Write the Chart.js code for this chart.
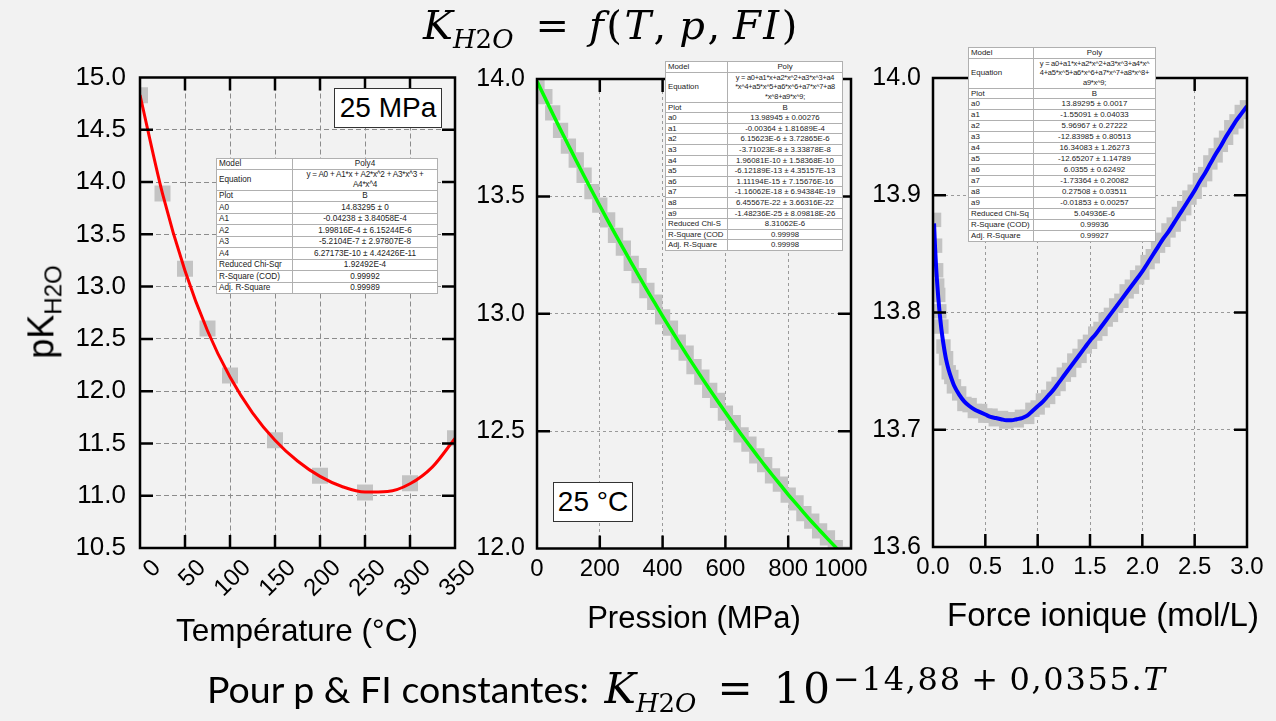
<!DOCTYPE html>
<html>
<head>
<meta charset="utf-8">
<script src="https://cdn.jsdelivr.net/npm/chart.js@4.4.0/dist/chart.umd.min.js"></script>
<style>
  html, body { margin: 0; padding: 0; }
  body { width: 1276px; height: 721px; background: #f2f2f2; position: relative; overflow: hidden;
         font-family: "Liberation Sans", Arial, sans-serif; color: #000; }
  canvas { position: absolute; }
  .abs { position: absolute; white-space: nowrap; }
  .math { font-family: "DejaVu Serif", serif; }
  .math i { font-style: italic; }
  .axt { transform: translate(-50%, -50%); }
  .tag { background: #fff; border: 1.5px solid #333; font-size: 28px; text-align: center; box-sizing: border-box; }
  table.fit { position: absolute; border-collapse: collapse; background: #fff; border: 1.5px solid #555;
              table-layout: fixed; color: #222; }
  table.fit td { border: 1px solid #b0b0b0; padding: 0 2px; white-space: pre; overflow: hidden;
                 line-height: 9.6px; vertical-align: middle; }
  table.fit td:nth-child(2) { text-align: center; }
  table.fit td.eq { letter-spacing: -0.25px; padding: 0; }
</style>
</head>
<body>
<canvas id="cTemp" width="450" height="620" style="left:40px;top:50px"></canvas>
<canvas id="cPres" width="450" height="620" style="left:440px;top:50px"></canvas>
<canvas id="cIon" width="440" height="620" style="left:836px;top:50px"></canvas>

<div class="abs math" id="title" style="left:423px;top:5px;font-size:40px;line-height:40px;">
  <i>K</i><sub style="font-size:26px"><i>H</i>2<i>O</i></sub><span style="margin:0 20px 0 22px">=</span><span style="letter-spacing:2.5px"><i>f</i>(<i>T</i>,&#8201;<i>p</i>,&#8201;<i>FI</i>)</span>
</div>

<div class="abs" id="ytitle" style="left:44px;top:312px;transform:translate(-50%,-50%) rotate(-90deg);font-size:36px;">pK<sub style="font-size:24px">H2O</sub></div>

<div class="abs axt" style="left:297px;top:630px;font-size:31.5px;">Température (°C)</div>
<div class="abs axt" style="left:694px;top:618px;font-size:31px;">Pression (MPa)</div>
<div class="abs axt" style="left:1103px;top:615px;font-size:33px;">Force ionique (mol/L)</div>

<div class="abs tag" style="left:334px;top:88px;width:108px;height:40px;line-height:37px;">25 MPa</div>
<div class="abs tag" style="left:553px;top:482px;width:80px;height:40px;line-height:37px;">25 °C</div>

<div class="abs" id="formula" style="left:207px;top:660px;">
  <span style="font-family:Lato, 'Open Sans', sans-serif;font-size:37.5px;">Pour p &amp; FI constantes: </span><span class="math" style="font-size:42px;margin-left:6px;"><i>K</i><sub style="font-size:26px"><i>H</i>2<i>O</i></sub><span style="margin:0 0.5em">=</span><span style="letter-spacing:3px">10</span><sup style="font-size:32px;vertical-align:0.42em;letter-spacing:1.7px;">−14,88<span style="margin:0 0.3em">+</span>0,0355.<i>T</i></sup></span>
</div>

<script>
// ---- Temperature series (p = 25 MPa) ----
const tempC = [0, 25, 50, 75, 100, 150, 200, 250, 300, 350];
const pkTemp = [14.83, 13.89, 13.17, 12.60, 12.15, 11.53, 11.19, 11.03, 11.12, 11.55];
// Poly4 fit curve, sampled every 25 °C
const fitTempX = [0, 25, 50, 75, 100, 125, 150, 175, 200, 225, 250, 275, 300, 325, 350];
const fitTempY = [14.833, 13.890, 13.152, 12.578, 12.135, 11.793, 11.531, 11.332, 11.185, 11.086,
                  11.035, 11.040, 11.114, 11.276, 11.549];
const tempTicks = ['0', '50', '100', '150', '200', '250', '300', '350'];

// ---- Pressure series (T = 25 °C) ----
const pressMPa = [0, 25, 50, 75, 100, 125, 150, 175, 200, 225, 250, 275, 300, 325, 350, 375, 400,
                  425, 450, 475, 500, 525, 550, 575, 600, 625, 650, 675, 700, 725, 750, 775, 800,
                  825, 850, 875, 900, 925, 950, 975, 1000];
const pkPress = [13.985, 13.925, 13.856, 13.781, 13.714, 13.655, 13.590, 13.520, 13.463, 13.400,
                 13.334, 13.280, 13.215, 13.162, 13.099, 13.049, 12.987, 12.939, 12.879, 12.832,
                 12.775, 12.730, 12.674, 12.631, 12.577, 12.536, 12.484, 12.445, 12.395, 12.357,
                 12.309, 12.274, 12.227, 12.194, 12.149, 12.117, 12.075, 12.045, 12.004, 11.976, 11.937];
const fitPress = [13.990, 13.921, 13.852, 13.784, 13.718, 13.652, 13.587, 13.523, 13.460, 13.398,
                  13.337, 13.277, 13.218, 13.159, 13.102, 13.046, 12.990, 12.936, 12.882, 12.829,
                  12.778, 12.727, 12.677, 12.628, 12.580, 12.533, 12.487, 12.442, 12.398, 12.354,
                  12.312, 12.271, 12.230, 12.191, 12.152, 12.114, 12.078, 12.042, 12.007, 11.973, 11.940];
const pressTicks = ['0', '200', '400', '600', '800', '1000   '];

// ---- Ionic strength series ----
const ionic = [0.01, 0.02, 0.03, 0.04, 0.05, 0.06, 0.08, 0.10, 0.125, 0.15, 0.175, 0.20,
               0.25, 0.30, 0.35, 0.40, 0.45, 0.50, 0.55, 0.60, 0.65, 0.70, 0.75, 0.80, 0.85, 0.90,
               0.95, 1.00, 1.05, 1.10, 1.15, 1.20, 1.25, 1.30, 1.35, 1.40, 1.45, 1.50, 1.55, 1.60,
               1.65, 1.70, 1.75, 1.80, 1.85, 1.90, 1.95, 2.00, 2.05, 2.10, 2.15, 2.20, 2.25, 2.30,
               2.35, 2.40, 2.45, 2.50, 2.55, 2.60, 2.65, 2.70, 2.75, 2.80, 2.85, 2.90, 2.95, 3.00];
const pkIonic = [13.879, 13.857, 13.836, 13.823, 13.815, 13.801, 13.788, 13.771, 13.761, 13.749, 13.745, 13.737,
                 13.731, 13.722, 13.721, 13.716, 13.716, 13.712, 13.712, 13.709, 13.710, 13.707, 13.709, 13.708,
                 13.711, 13.711, 13.717, 13.719, 13.725, 13.728, 13.735, 13.739, 13.747, 13.751, 13.759, 13.763,
                 13.771, 13.775, 13.782, 13.786, 13.794, 13.798, 13.806, 13.810, 13.818, 13.822, 13.830, 13.834,
                 13.843, 13.848, 13.857, 13.862, 13.870, 13.875, 13.884, 13.889, 13.898, 13.903, 13.913, 13.918,
                 13.928, 13.934, 13.943, 13.949, 13.958, 13.963, 13.971, 13.975];
const fitIonic = [13.876, 13.855, 13.838, 13.825, 13.813, 13.803, 13.786, 13.773, 13.760, 13.751, 13.744, 13.738,
                  13.730, 13.724, 13.720, 13.717, 13.715, 13.713, 13.711, 13.710, 13.709, 13.708, 13.708, 13.709,
                  13.710, 13.712, 13.716, 13.720, 13.724, 13.729, 13.734, 13.740, 13.746, 13.752, 13.758, 13.764,
                  13.770, 13.776, 13.781, 13.787, 13.793, 13.799, 13.805, 13.811, 13.817, 13.823, 13.829, 13.835,
                  13.842, 13.849, 13.856, 13.863, 13.869, 13.876, 13.883, 13.890, 13.897, 13.904, 13.912, 13.919,
                  13.927, 13.935, 13.942, 13.950, 13.957, 13.964, 13.970, 13.976];
const ionicTicks = ['0.0', '0.5', '1.0', '1.5', '2.0', '2.5', '3.0'];

// ---- Fit report tables ----
const tableTemp = [
  ['Model', 'Poly4'],
  ['Equation', 'y = A0 + A1*x + A2*x^2 + A3*x^3 +\nA4*x^4'],
  ['Plot', 'B'],
  ['A0', '14.83295 ± 0'],
  ['A1', '-0.04238 ± 3.84058E-4'],
  ['A2', '1.99816E-4 ± 6.15244E-6'],
  ['A3', '-5.2104E-7 ± 2.97807E-8'],
  ['A4', '6.27173E-10 ± 4.42426E-11'],
  ['Reduced Chi-Sqr', '1.92492E-4'],
  ['R-Square (COD)', '0.99992'],
  ['Adj. R-Square', '0.99989']
];
const tablePress = [
  ['Model', 'Poly'],
  ['Equation', 'y = a0+a1*x+a2*x^2+a3*x^3+a4\n*x^4+a5*x^5+a6*x^6+a7*x^7+a8\n*x^8+a9*x^9;'],
  ['Plot', 'B'],
  ['a0', '13.98945 ± 0.00276'],
  ['a1', '-0.00364 ± 1.81689E-4'],
  ['a2', '6.15623E-6 ± 3.72865E-6'],
  ['a3', '-3.71023E-8 ± 3.33878E-8'],
  ['a4', '1.96081E-10 ± 1.58368E-10'],
  ['a5', '-6.12189E-13 ± 4.35157E-13'],
  ['a6', '1.11194E-15 ± 7.15676E-16'],
  ['a7', '-1.16062E-18 ± 6.94384E-19'],
  ['a8', '6.45567E-22 ± 3.66316E-22'],
  ['a9', '-1.48236E-25 ± 8.09818E-26'],
  ['Reduced Chi-S', '8.31062E-6'],
  ['R-Square (COD', '0.99998'],
  ['Adj. R-Square', '0.99998']
];
const tableIonic = [
  ['Model', 'Poly'],
  ['Equation', 'y = a0+a1*x+a2*x^2+a3*x^3+a4*x^\n4+a5*x^5+a6*x^6+a7*x^7+a8*x^8+\na9*x^9;'],
  ['Plot', 'B'],
  ['a0', '13.89295 ± 0.0017'],
  ['a1', '-1.55091 ± 0.04033'],
  ['a2', '5.96967 ± 0.27222'],
  ['a3', '-12.83985 ± 0.80513'],
  ['a4', '16.34083 ± 1.26273'],
  ['a5', '-12.65207 ± 1.14789'],
  ['a6', '6.0355 ± 0.62492'],
  ['a7', '-1.73364 ± 0.20082'],
  ['a8', '0.27508 ± 0.03511'],
  ['a9', '-0.01853 ± 0.00257'],
  ['Reduced Chi-Sq', '5.04936E-6'],
  ['R-Square (COD)', '0.99936'],
  ['Adj. R-Square', '0.99927']
];

function buildTable(rows, box) {
  const t = document.createElement('table');
  t.className = 'fit';
  Object.assign(t.style, { left: box.left + 'px', top: box.top + 'px', width: box.width + 'px', fontSize: box.font + 'px' });
  const cg = document.createElement('colgroup');
  const c1 = document.createElement('col'); c1.style.width = box.col1 + 'px';
  const c2 = document.createElement('col');
  cg.append(c1, c2); t.appendChild(cg);
  rows.forEach((r, i) => {
    const tr = document.createElement('tr');
    tr.style.height = box.heights[Math.min(i, box.heights.length - 1)] + 'px';
    r.forEach((txt, j) => {
      const td = document.createElement('td');
      td.textContent = txt;
      if (i === 1 && j === 1) { td.className = 'eq'; td.style.fontSize = box.eqFont + 'px'; }
      tr.appendChild(td);
    });
    t.appendChild(tr);
  });
  document.body.appendChild(t);
}
buildTable(tableTemp,  { left: 216, top: 158, width: 222, col1: 76, font: 8.2, eqFont: 8.2, heights: [10, 21, 11.5] });
buildTable(tablePress, { left: 665, top: 61, width: 178, col1: 62, font: 7.8, eqFont: 7.4, heights: [10, 30, 8.5, 10.6] });
buildTable(tableIonic, { left: 968, top: 47, width: 188, col1: 65, font: 7.9, eqFont: 7.5, heights: [10, 30, 10, 11] });

// ---- Charts ----
Chart.defaults.font.family = '"Liberation Sans", Arial, sans-serif';
Chart.defaults.color = '#000';

// Black frame round the plot area with inward tick marks on all four sides
const frameTicks = {
  id: 'frameTicks',
  afterDraw(chart) {
    const { ctx, chartArea: a } = chart;
    const xs = chart.scales.x, ys = chart.scales.y;
    const len = 13;
    ctx.save();
    ctx.strokeStyle = '#000';
    ctx.lineWidth = 2.5;
    ctx.beginPath();
    xs.ticks.forEach(t => {
      const px = xs.getPixelForValue(t.value);
      if (px < a.left + 2 || px > a.right - 2) return;
      ctx.moveTo(px, a.top); ctx.lineTo(px, a.top + len);
      ctx.moveTo(px, a.bottom); ctx.lineTo(px, a.bottom - len);
    });
    ys.ticks.forEach(t => {
      const py = ys.getPixelForValue(t.value);
      if (py < a.top + 2 || py > a.bottom - 2) return;
      ctx.moveTo(a.left, py); ctx.lineTo(a.left + len, py);
      ctx.moveTo(a.right, py); ctx.lineTo(a.right - len, py);
    });
    ctx.stroke();
    ctx.strokeRect(a.left, a.top, a.right - a.left, a.bottom - a.top);
    ctx.restore();
  }
};

function fixSize(size, horizontal) {
  return scale => {
    if (horizontal) scale.height = size; else scale.width = size;
    scale.paddingLeft = scale.paddingRight = scale.paddingTop = scale.paddingBottom = 0;
  };
}

function zip(xs, ys) { return xs.map((x, i) => ({ x, y: ys[i] })); }

function makeChart(id, g) {
  return new Chart(document.getElementById(id), {
    type: 'scatter',
    data: {
      datasets: [
        { data: zip(g.fitX, g.fitY), showLine: true, pointRadius: 0, borderColor: g.lineColor,
          borderWidth: g.lineWidth, cubicInterpolationMode: 'monotone', fill: false },
        { data: zip(g.x, g.y), showLine: false, pointStyle: 'rect', pointRadius: g.marker,
          pointBackgroundColor: '#c3c3c3', pointBorderWidth: 0, clip: 0 }
      ]
    },
    options: {
      responsive: false, animation: false, devicePixelRatio: 1,
      layout: { padding: g.padding },
      plugins: { legend: { display: false }, tooltip: { enabled: false } },
      scales: {
        x: {
          type: 'linear', min: g.xMin, max: g.xMax,
          afterFit: fixSize(g.xSize, true),
          grid: { color: g.gridColor, lineWidth: 1, drawTicks: false },
          border: { display: false, dash: g.dash },
          ticks: Object.assign({ stepSize: g.xStep, autoSkip: false, font: { size: g.xFont }, color: '#000',
                   callback: (v, i) => g.xLabels[i] }, g.xTickExtra)
        },
        y: {
          type: 'linear', min: g.yMin, max: g.yMax,
          afterFit: fixSize(g.ySize, false),
          grid: { color: g.gridColor, lineWidth: 1, drawTicks: false },
          border: { display: false, dash: g.dash },
          ticks: { stepSize: g.yStep, autoSkip: false, font: { size: g.yFont }, color: '#000', padding: g.yPad,
                   callback: v => v.toFixed(1) }
        }
      }
    },
    plugins: [frameTicks]
  });
}

makeChart('cTemp', {
  fitX: fitTempX, fitY: fitTempY, x: tempC, y: pkTemp,
  lineColor: '#ff0000', lineWidth: 3, marker: 11.3,
  padding: { left: 0, top: 27.5, right: 35, bottom: 0 },
  xMin: 0, xMax: 350, xStep: 50, xSize: 122, xFont: 24, xLabels: tempTicks,
  xTickExtra: { minRotation: 45, maxRotation: 45, padding: 6, labelOffset: 17 },
  yMin: 10.5, yMax: 15, yStep: 0.5, ySize: 100, yFont: 26, yPad: 14,
  gridColor: '#8c8c8c', dash: [5, 3]
});

makeChart('cPres', {
  fitX: pressMPa, fitY: fitPress, x: pressMPa, y: pkPress,
  lineColor: '#00ff00', lineWidth: 3.5, marker: 10.8,
  padding: { left: 0, top: 29, right: 39, bottom: 0 },
  xMin: 0, xMax: 1000, xStep: 200, xSize: 121.5, xFont: 24, xLabels: pressTicks,
  xTickExtra: { maxRotation: 0, padding: 6 },
  yMin: 12, yMax: 14, yStep: 0.5, ySize: 97, yFont: 25, yPad: 12,
  gridColor: '#9a9a9a', dash: [3, 3]
});

makeChart('cIon', {
  fitX: ionic, fitY: fitIonic, x: ionic, y: pkIonic,
  lineColor: '#0000ff', lineWidth: 4, marker: 10.2,
  padding: { left: 0, top: 28, right: 29, bottom: 0 },
  xMin: 0, xMax: 3, xStep: 0.5, xSize: 123, xFont: 24, xLabels: ionicTicks,
  xTickExtra: { maxRotation: 0, padding: 6 },
  yMin: 13.6, yMax: 14.0, yStep: 0.1, ySize: 97, yFont: 25, yPad: 12,
  gridColor: '#9a9a9a', dash: [3, 3]
});
</script>
</body>
</html>
